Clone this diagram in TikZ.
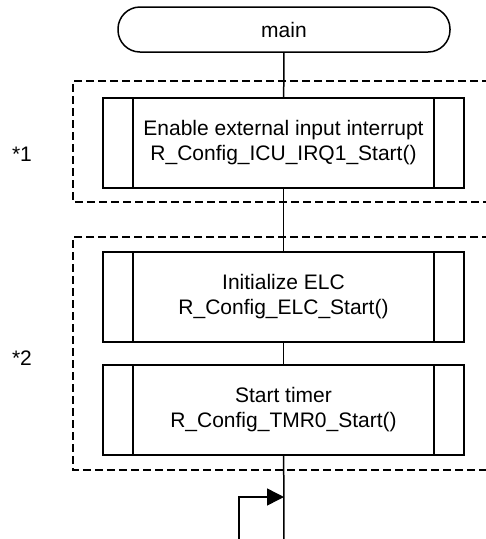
\documentclass[tikz,border=0pt]{standalone}
\usepackage{fontspec}
\setmainfont{Liberation Sans}
\usetikzlibrary{arrows.meta,calc,positioning}

\tikzset{
	term/.style={draw, line width=1.5pt, rounded corners=22pt, minimum width=332pt, minimum height=45pt, inner sep=0pt},
	subproc/.style={draw, line width=1.5pt, minimum width=361pt, minimum height=90pt, inner sep=0pt, align=center,
		path picture={
			\draw[line width=1.5pt] ([xshift=30pt]path picture bounding box.north west) -- ([xshift=30pt]path picture bounding box.south west);
			\draw[line width=1.5pt] ([xshift=-30pt]path picture bounding box.north east) -- ([xshift=-30pt]path picture bounding box.south east);
		}},
	group/.style={line width=1.3pt, dash pattern=on 8pt off 4pt},
	flow/.style={line width=1.5pt},
	note/.style={inner sep=0pt},
}

\begin{document}
\begin{tikzpicture}[x=1pt, y=-1pt, every node/.style={font=\fontsize{21}{25}\selectfont}]
		\useasboundingbox (0,0) rectangle (486,539);
		
		\draw[group] (490,81) -- (73,81) -- (73,202) -- (490,202);  % group *1
		\draw[group] (490,237) -- (73,237) -- (73,470) -- (490,470);  % group *2
		
		\node[term] (main) at (284,29.5) {main};
		\node[subproc] (irq) at (283.5,143) {Enable external input interrupt\\R\_Config\_ICU\_IRQ1\_Start()};
		\node[subproc] (elc) at (283.5,297) {Initialize ELC\\R\_Config\_ELC\_Start()};
		\node[subproc] (tmr) at (283.5,410) {Start timer\\R\_Config\_TMR0\_Start()};
		
		\node[note] (n1) at (22,154) {*1};
		\node[note] (n2) at (22,358) {*2};
		
		\coordinate (out) at (284,541);
		\coordinate (back) at (239,541);
		\coordinate (join) at (284,497);
		
		\draw[flow] (main) -- (irq);
		\draw[flow] (irq) -- (elc);
		\draw[flow] (elc) -- (tmr);
		\draw[flow] (tmr) -- (out);
		\draw[flow,-{Triangle[length=17pt,width=17pt]}] (back) |- (join);
		\end{tikzpicture}
\end{document}
